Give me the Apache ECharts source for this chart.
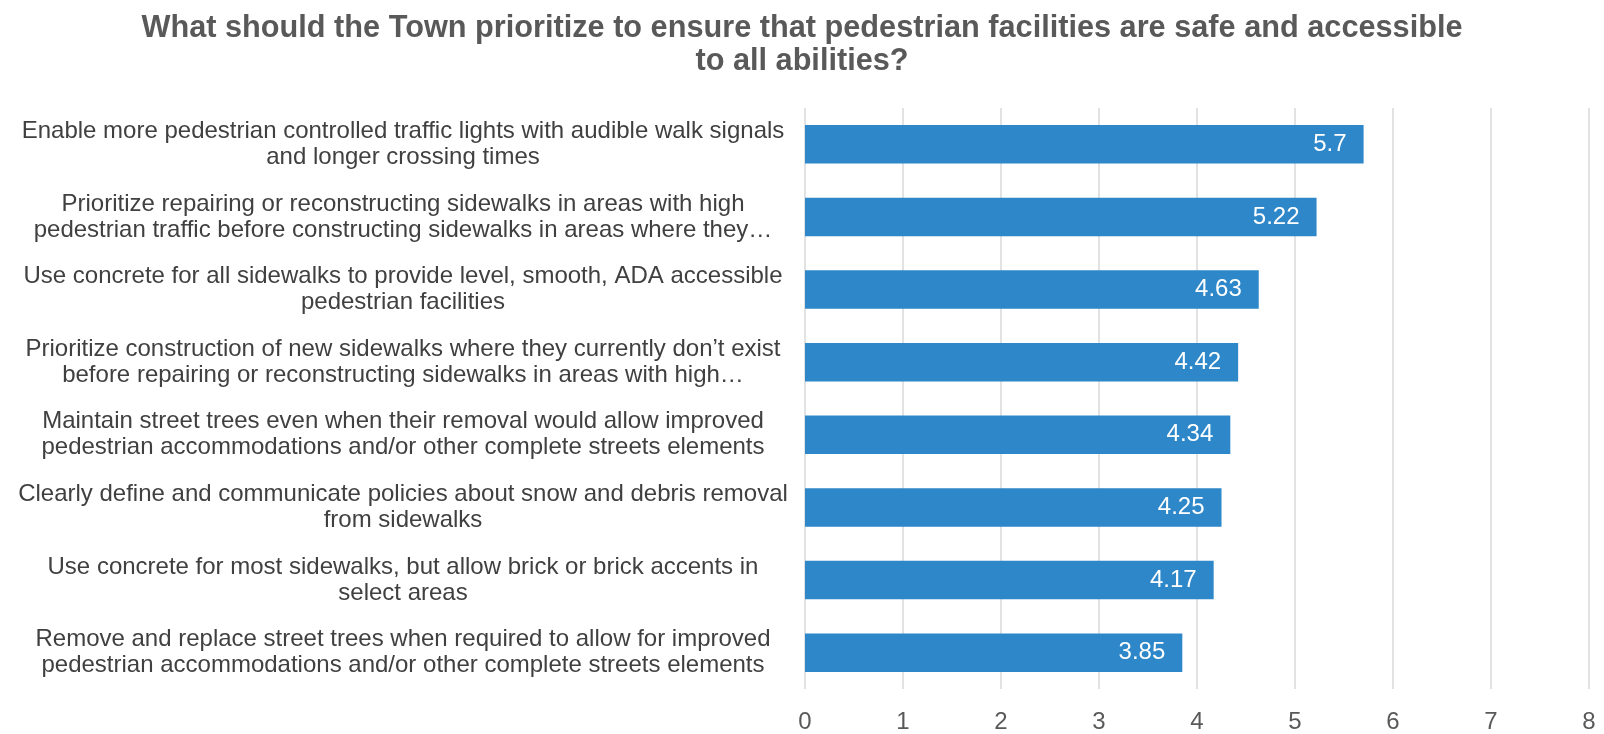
<!DOCTYPE html>
<html>
<head>
<meta charset="utf-8">
<script src="https://cdn.jsdelivr.net/npm/echarts@6/dist/echarts.min.js"></script>
<style>
  html, body { margin: 0; padding: 0; background: #fff; }
  #chart { width: 1604px; height: 734px; }
</style>
</head>
<body>
<div id="chart"></div>
<script>
const FONT = '"Liberation Sans", Arial, sans-serif';
const TITLE = 'What should the Town prioritize to ensure that pedestrian facilities are safe and accessible\nto all abilities?';

// top to bottom as in the picture
const categories = [
  'Enable more pedestrian controlled traffic lights with audible walk signals\nand longer crossing times',
  'Prioritize repairing or reconstructing sidewalks in areas with high\npedestrian traffic before constructing sidewalks in areas where they…',
  'Use concrete for all sidewalks to provide level, smooth, ADA accessible\npedestrian facilities',
  'Prioritize construction of new sidewalks where they currently don’t exist\nbefore repairing or reconstructing sidewalks in areas with high…',
  'Maintain street trees even when their removal would allow improved\npedestrian accommodations and/or other complete streets elements',
  'Clearly define and communicate policies about snow and debris removal\nfrom sidewalks',
  'Use concrete for most sidewalks, but allow brick or brick accents in\nselect areas',
  'Remove and replace street trees when required to allow for improved\npedestrian accommodations and/or other complete streets elements'
];
const scores = [5.7, 5.22, 4.63, 4.42, 4.34, 4.25, 4.17, 3.85];
const xTicks = [0, 8, 1]; // min, max, interval

const chart = echarts.init(document.getElementById('chart'), null, { renderer: 'canvas' });
chart.setOption({
  backgroundColor: '#fff',
  animation: false,
  title: {
    text: TITLE,
    left: 'center',
    top: 7,
    textStyle: { color: '#595959', fontSize: 30.7, fontWeight: 'bold', fontFamily: FONT, lineHeight: 33 }
  },
  grid: { left: 805, right: 15, top: 108, bottom: 37 },
  xAxis: {
    type: 'value',
    min: xTicks[0],
    max: xTicks[1],
    interval: xTicks[2],
    axisLine: { show: false },
    axisTick: { show: false },
    axisLabel: { color: '#595959', fontSize: 24, fontFamily: FONT, margin: 21 },
    splitLine: { lineStyle: { color: '#D9D9D9', width: 1.5 } }
  },
  yAxis: {
    type: 'category',
    inverse: true,
    data: categories,
    axisLine: { show: false },
    axisTick: { show: false },
    axisLabel: {
      color: '#404040',
      fontSize: 24,
      lineHeight: 26,
      fontFamily: FONT,
      align: 'center',
      margin: 402
    }
  },
  series: [{
    type: 'bar',
    data: scores,
    barCategoryGap: '47%',
    itemStyle: { color: '#2D87C8' },
    label: {
      show: true,
      position: 'insideRight',
      distance: 17,
      color: '#fff',
      fontSize: 24,
      fontFamily: FONT
    }
  }]
});
</script>
</body>
</html>
